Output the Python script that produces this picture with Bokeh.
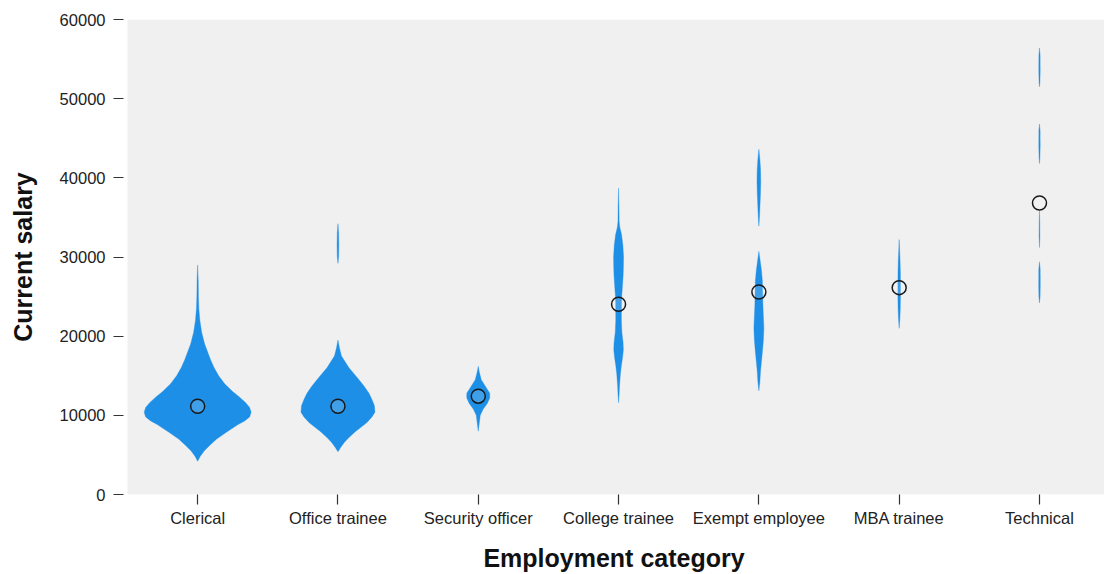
from bokeh.plotting import figure
from bokeh.models import ColumnDataSource, FixedTicker
from bokeh.embed import file_html
from bokeh.resources import INLINE

# ---------------- data ----------------
categories = ["Clerical", "Office trainee", "Security officer", "College trainee",
              "Exempt employee", "MBA trainee", "Technical"]
means = [11150, 11150, 12420, 24030, 25580, 26130, 36820]
y_ticks = [0, 10000, 20000, 30000, 40000, 50000, 60000]

# density profiles (salary level, relative density width)
clerical_salary = [29000, 27000, 25000, 23500, 22000, 20500, 19000, 18000, 17000, 16000,
                   15000, 14000, 13000, 12300, 11600, 11000, 10400, 9800, 9300, 8800,
                   8300, 7800, 7000, 6200, 5500, 4800, 4200]
clerical_density = [0, 0.6, 0.8, 1.2, 2.2, 4, 7, 10, 13, 16.5,
                    21, 27, 35, 42, 48, 52, 53.5, 52, 47, 40,
                    34, 28, 19, 12, 6.5, 2.5, 0]

office_salary = [34200, 33000, 31500, 30000, 29200, 19500, 19200, 18500, 17500, 16700,
                 16000, 15400, 14500, 13700, 12800, 12000, 11200, 10400, 9800, 9100,
                 8500, 7900, 7200, 6600, 6000, 5400]
office_density = [0, 0.7, 0.9, 0.7, 0, 0, 0.5, 1.5, 3.5, 7.5,
                  11, 15, 21, 26, 31, 34, 36.5, 37, 34, 29,
                  23, 17, 11, 6.5, 3, 0]

security_salary = [16200, 15500, 14500, 13500, 12800, 12200, 11500, 10800, 10000, 9000, 8000]
security_density = [0, 1, 3, 8, 11.5, 11.5, 9, 5, 2, 1, 0]

college_salary = [38700, 36500, 34500, 33800, 32800, 31500, 30000, 28500, 27500, 26000,
                  25000, 24000, 22000, 20500, 19200, 18300, 17300, 16300, 15200, 13800,
                  12500, 11600]
college_density = [0, 0.4, 0.6, 1.2, 3, 4.3, 5, 4.8, 4.5, 3.7,
                   3.1, 2.9, 2.8, 3.3, 4.5, 4.8, 4, 2.8, 1.8, 1,
                   0.5, 0]

exempt_salary = [43600, 42500, 41000, 39500, 38000, 36500, 35000, 33900, 30700, 29800,
                 28400, 27000, 25500, 24000, 22500, 21000, 19500, 18000, 16700, 15500,
                 14200, 13100]
exempt_density = [0, 0.9, 1.7, 1.9, 1.6, 1.1, 0.6, 0, 0, 1,
                  2.5, 3.5, 3.8, 4, 4.5, 5, 4.5, 3.5, 2.5, 1.6,
                  1, 0]

mba_salary = [32200, 31000, 29500, 28000, 26500, 25000, 23500, 22200, 21000]
mba_density = [0, 0.4, 0.9, 1.2, 1.3, 1.3, 1.1, 0.7, 0]

technical_salary = [56400, 55500, 53500, 52000, 51500, 46800, 46000, 44000, 42500, 41800,
                    35800, 34500, 32500, 31200, 29400, 28500, 26500, 25000, 24200]
technical_density = [0, 0.6, 0.7, 0.4, 0, 0, 0.6, 0.7, 0.4, 0,
                     0, 0.3, 0.4, 0, 0, 0.7, 0.8, 0.6, 0]

profiles = [
    (clerical_salary, clerical_density),
    (office_salary, office_density),
    (security_salary, security_density),
    (college_salary, college_density),
    (exempt_salary, exempt_density),
    (mba_salary, mba_density),
    (technical_salary, technical_density),
]

# ---------------- build violin polygons ----------------
BAND_PX = 140.33
WIDTH_SCALE = 1.0 / BAND_PX  # density unit -> category-axis units

xs, ys = [], []
for ci, (sal, dens) in enumerate(profiles):
    zero_idx = [i for i, d in enumerate(dens) if d == 0]
    for a, b in zip(zero_idx[:-1], zero_idx[1:]):
        if b - a < 2:
            continue
        seg_s = sal[a:b + 1]
        seg_d = dens[a:b + 1]
        right_x = [ci + d * WIDTH_SCALE for d in seg_d]
        left_x = [ci - d * WIDTH_SCALE for d in seg_d][::-1]
        xs.append(right_x + left_x)
        ys.append(list(seg_s) + list(seg_s)[::-1])

violin_src = ColumnDataSource(dict(xs=xs, ys=ys))
mean_src = ColumnDataSource(dict(x=list(range(len(categories))), y=means))

# ---------------- figure ----------------
x_start = -0.5 - 4.0 / BAND_PX
x_end = (1104 - 197) / BAND_PX
p = figure(width=1104, height=574, output_backend="svg", toolbar_location=None,
           x_range=(x_start, x_end), y_range=(0, 60000),
           min_border_left=123, min_border_right=0, min_border_top=19, min_border_bottom=78)
p.background_fill_color = "white"
p.border_fill_color = "white"
p.outline_line_color = None
p.grid.visible = False

p.quad(left=[-0.5], right=[7], bottom=[0], top=[60000], fill_color="#f0f0f0", line_color=None)

p.patches(xs="xs", ys="ys", source=violin_src, fill_color="#1e8fe6", line_color="#1e8fe6",
          line_width=0.6, line_alpha=0.6)

p.scatter(x="x", y="y", source=mean_src, marker="circle", size=14,
          fill_color="white", fill_alpha=0.15, line_color="#1a1a1a", line_width=1.5)

FONT = "Liberation Sans"
for ax in (p.xaxis[0], p.yaxis[0]):
    ax.axis_line_color = None
    ax.major_tick_in = 0
    ax.major_tick_out = 10
    ax.minor_tick_line_color = None
    ax.major_tick_line_color = "#333333"
    ax.major_tick_line_width = 1.2
    ax.major_label_text_font = FONT
    ax.major_label_text_font_size = "16.5px"
    ax.major_label_text_color = "#222222"
    ax.axis_label_text_font = FONT
    ax.axis_label_text_font_style = "bold"
    ax.axis_label_text_font_size = "25px"
    ax.axis_label_text_color = "#111111"

p.yaxis.ticker = FixedTicker(ticks=y_ticks)
p.yaxis.major_label_standoff = 8
p.yaxis.axis_label = "Current salary"
p.yaxis.axis_label_standoff = 20

p.xaxis.ticker = FixedTicker(ticks=list(range(len(categories))))
p.xaxis.major_label_overrides = {i: c for i, c in enumerate(categories)}
p.xaxis.major_label_standoff = 4
p.xaxis.axis_label = "Employment category"
p.xaxis.axis_label_standoff = 14

open("out.html", "w").write(file_html(p, INLINE))
